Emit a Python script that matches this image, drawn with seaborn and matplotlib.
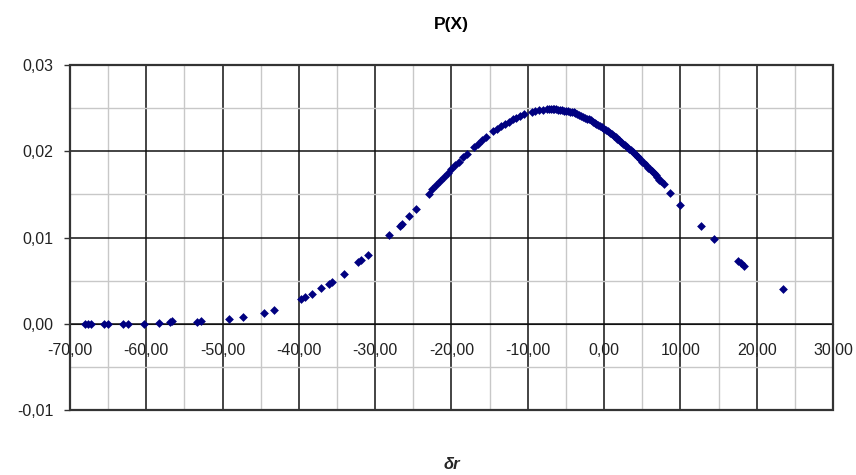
import matplotlib

matplotlib.use("Agg")

import matplotlib.pyplot as plt
import pandas as pd
import seaborn as sns
from matplotlib.patches import Rectangle
from matplotlib.ticker import FuncFormatter, MultipleLocator

# values
# sparse left tail
x_left = [-68.0, -67.6, -67.3, -65.5, -65.0, -63.0, -62.4, -60.3, -58.3, -56.9,
          -56.6, -53.4, -52.8, -49.2, -47.3, -44.6, -43.2, -39.7, -39.2, -38.3,
          -37.1, -36.1, -35.7, -34.1, -32.2, -31.8, -31.0, -28.2, -26.8, -26.5,
          -25.6, -24.7]
y_left = [0.0, 0.0, 0.0, 0.0, 0.0, 0.0, 0.0, 0.0, 0.0001, 0.0002,
          0.0003, 0.0002, 0.0003, 0.0006, 0.0008, 0.0013, 0.0016, 0.0029, 0.0031, 0.0035,
          0.0041, 0.0046, 0.0048, 0.0058, 0.0072, 0.0074, 0.0080, 0.0103, 0.0113, 0.0116,
          0.0125, 0.0133]

# dense band around the peak
x_mid = [-23.0, -22.5, -22.0, -21.5, -21.0, -20.5, -20.0, -19.5, -19.0, -18.5,
         -18.0, -17.0, -16.5, -16.0, -15.5, -14.5, -14.0, -13.5, -13.0, -12.5,
         -12.0, -11.5, -11.0, -10.5, -9.5, -9.0, -8.5, -8.0, -7.5, -7.0,
         -6.5, -6.0, -5.5, -5.0, -4.5, -4.0, -3.5, -3.0, -2.5, -2.0,
         -1.5, -1.0, -0.5, 0.0, 0.5, 1.0, 1.5, 2.0, 2.5, 3.0,
         3.5, 4.0, 4.5, 5.0, 5.5, 6.0, 6.5, 7.0, 7.5]
y_mid = [0.0151, 0.0156, 0.0161, 0.0165, 0.0170, 0.0175, 0.0179, 0.0184, 0.0188, 0.0193,
         0.0197, 0.0205, 0.0209, 0.0213, 0.0216, 0.0223, 0.0226, 0.0229, 0.0232, 0.0234,
         0.0237, 0.0239, 0.0241, 0.0243, 0.0246, 0.0247, 0.0248, 0.0248, 0.0249, 0.0249,
         0.0249, 0.0248, 0.0248, 0.0247, 0.0246, 0.0245, 0.0243, 0.0241, 0.0239, 0.0237,
         0.0234, 0.0232, 0.0229, 0.0226, 0.0223, 0.0220, 0.0216, 0.0213, 0.0209, 0.0205,
         0.0201, 0.0197, 0.0193, 0.0188, 0.0184, 0.0179, 0.0175, 0.0170, 0.0165]

# extra points where the band is packed tight (right of the peak)
x_fill = [-7.25, -6.75, -6.25, -5.75, -5.25, -4.75, -4.25, -3.75, -3.25, -2.75,
          -2.25, -1.75, -1.25, -0.75, -0.25, 0.25, 0.75, 1.25, 1.75, 2.25,
          2.75, 3.25, 3.75, 4.25, 4.75, 5.25, 5.75, 6.25, 6.75, 7.25, 7.8]
y_fill = [0.0249, 0.0249, 0.0249, 0.0248, 0.0247, 0.0247, 0.0245, 0.0244, 0.0242, 0.0240,
          0.0238, 0.0236, 0.0233, 0.0230, 0.0228, 0.0225, 0.0221, 0.0218, 0.0214, 0.0211,
          0.0207, 0.0203, 0.0199, 0.0195, 0.0191, 0.0186, 0.0181, 0.0177, 0.0172, 0.0167,
          0.0162]

# sparse right tail
x_right = [8.7, 10.0, 12.7, 14.4, 17.6, 18.0, 18.4, 23.4]
y_right = [0.0152, 0.0138, 0.0113, 0.0098, 0.0073, 0.0070, 0.0067, 0.0040]

df = pd.DataFrame({"dr": x_left + x_mid + x_fill + x_right,
                   "p": y_left + y_mid + y_fill + y_right})

sns.set_style("white")
plt.rcParams["font.family"] = ["Liberation Sans", "DejaVu Sans"]

fig = plt.figure(figsize=(8.56, 4.75), dpi=100)
ax = fig.add_axes([0.0818, 0.1368, 0.8913, 0.7263])

sns.scatterplot(data=df, x="dr", y="p", marker="D", s=20, color="#000080",
                linewidth=0, ax=ax, zorder=3)

ax.set_xlim(-70, 30)
ax.set_ylim(-0.01, 0.03)

# excel-like grid: black majors, light grey minors
ax.xaxis.set_major_locator(MultipleLocator(10))
ax.xaxis.set_minor_locator(MultipleLocator(5))
ax.yaxis.set_major_locator(MultipleLocator(0.01))
ax.yaxis.set_minor_locator(MultipleLocator(0.005))
ax.grid(which="major", color="#111111", linewidth=1.1)
ax.grid(which="minor", color="#c8c8c8", linewidth=1.0)
ax.set_axisbelow(True)

# decimal comma labels
ax.xaxis.set_major_formatter(FuncFormatter(lambda v, _: f"{v:.2f}".replace(".", ",")))
ax.yaxis.set_major_formatter(FuncFormatter(lambda v, _: f"{v:.2f}".replace(".", ",")))

# x axis crosses at y = 0
ax.spines["bottom"].set_position(("data", 0))
ax.spines["bottom"].set_color("#111111")
for side in ["top", "right", "left"]:
    ax.spines[side].set_visible(False)
ax.add_patch(Rectangle((0, 0), 1, 1, transform=ax.transAxes, fill=False,
                       edgecolor="#333333", linewidth=1.6, clip_on=False, zorder=4))

ax.tick_params(axis="x", which="both", length=0, pad=14, labelsize=11.5,
               labelcolor="#222222")
ax.tick_params(axis="y", which="major", length=4, width=1, color="#333333",
               direction="out", pad=8, labelsize=11.5, labelcolor="#222222", left=True)
ax.tick_params(axis="y", which="minor", length=0)

ax.set_title("P(X)", fontsize=12.5, fontweight="bold", color="black", pad=26)
ax.set_xlabel("δr", fontsize=12, fontweight="bold", fontstyle="italic")
ax.xaxis.set_label_coords(0.5, -0.135)
ax.set_ylabel("")

fig.savefig("out.png", dpi=100)
